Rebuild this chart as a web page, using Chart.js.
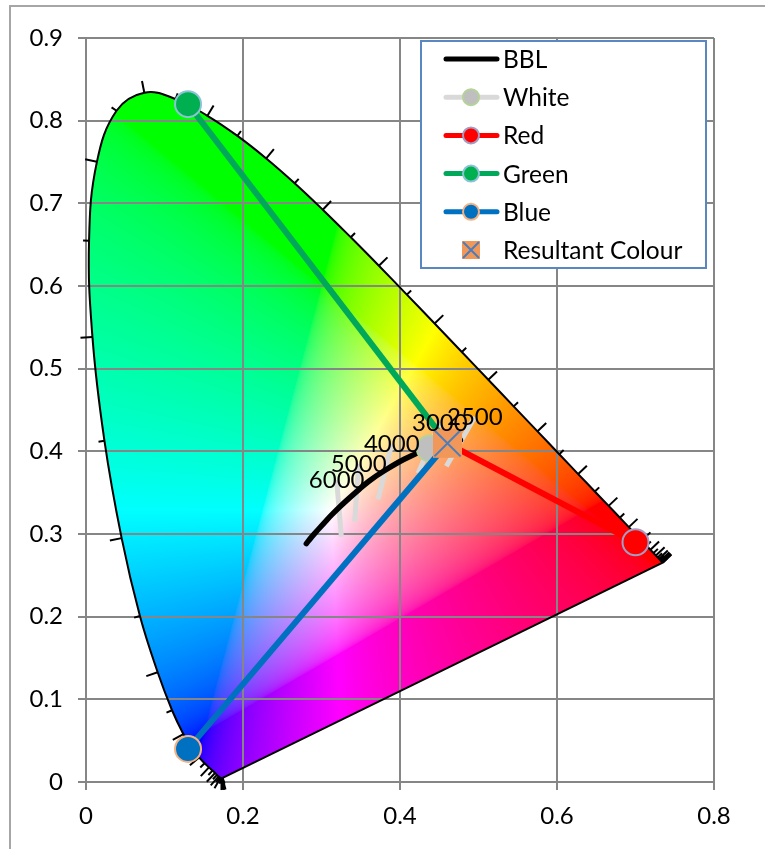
<!DOCTYPE html>
<html lang="en">
<head>
  <meta charset="UTF-8">
  <title>CIE 1931 chromaticity</title>
  <script src="https://cdn.jsdelivr.net/npm/chart.js"></script>
  <style>
    html, body { margin: 0; padding: 0; background: #fff; overflow: hidden; }
    #frame { position: absolute; left: 9px; top: 5px; width: 756px; height: 844px;
             border-left: 2px solid #a6a6a6; border-top: 2px solid #a6a6a6; box-sizing: border-box; }
    canvas { position: absolute; left: 0; top: 0; }
  </style>
</head>
<body>
  <div id="frame"></div>
  <canvas id="cie" width="765" height="849"></canvas>

  <script>
    // spectral locus, every 5 nm
    const locusNm = [380,385,390,395,400,405,410,415,420,425,430,435,440,445,450,455,460,465,470,475,480,485,490,495,500,505,510,515,520,525,530,535,540,545,550,555,560,565,570,575,580,585,590,595,600,605,610,615,620,625,630,635,640,645,650,655,660,665,670,675,680,685,690,695,700];
    const locusX = [.1741,.1740,.1738,.1736,.1733,.1730,.1726,.1721,.1714,.1703,.1689,.1669,.1644,.1611,.1566,.1510,.1440,.1355,.1241,.1096,.0913,.0687,.0454,.0235,.0082,.0039,.0139,.0389,.0743,.1142,.1547,.1929,.2296,.2658,.3016,.3373,.3731,.4087,.4441,.4788,.5125,.5448,.5752,.6029,.6270,.6482,.6658,.6801,.6915,.7006,.7079,.7140,.7190,.7230,.7260,.7283,.7300,.7311,.7320,.7327,.7334,.7340,.7344,.7346,.7347];
    const locusY = [.0050,.0050,.0049,.0049,.0048,.0048,.0048,.0048,.0051,.0058,.0069,.0086,.0109,.0138,.0177,.0227,.0297,.0399,.0578,.0868,.1327,.2007,.2950,.4127,.5384,.6548,.7502,.8120,.8338,.8262,.8059,.7816,.7543,.7243,.6923,.6589,.6245,.5896,.5547,.5202,.4866,.4544,.4242,.3965,.3725,.3514,.3340,.3197,.3083,.2993,.2920,.2859,.2809,.2770,.2740,.2717,.2700,.2689,.2680,.2673,.2666,.2660,.2656,.2654,.2653];

    // black body line
    const bblX = [.2807,.2867,.2952,.3064,.3135,.3221,.3325,.3451,.3608,.3805,.4053,.4369,.4520,.4770];
    const bblY = [.2884,.2956,.3048,.3166,.3237,.3318,.3410,.3516,.3642,.3768,.3904,.4041,.4086,.4137];

    // isotherm segments, bottom and top end
    const cctLabels = ['6000','5000','4000','3000','2500'];
    const cctBottomX = [.3253,.3423,.3720,.4230,.4590];
    const cctBottomY = [.2967,.3149,.3420,.3734,.3820];
    const cctTopX = [.3193,.3474,.3895,.4507,.4953];
    const cctTopY = [.3653,.3847,.4089,.4343,.4415];

    const whitePoint = [.438,.4035];
    const resultant = [.4605,.4097];
    const redPoint = [.70,.29];
    const greenPoint = [.13,.82];
    const bluePoint = [.13,.04];

    const xTicks = [0,.2,.4,.6,.8];
    const yTicks = [0,.1,.2,.3,.4,.5,.6,.7,.8,.9];
    const legendLabels = ['BBL','White','Red','Green','Blue','Resultant Colour'];

    const gridColor = '#868686';
    const axisFont = { family: 'Lato', size: 24 };

    function pairs(xs, ys) {
      return xs.map((x, i) => ({ x: x, y: ys[i] }));
    }

    const isotherms = [];
    cctLabels.forEach((t, i) => {
      isotherms.push({ x: cctBottomX[i], y: cctBottomY[i] });
      isotherms.push({ x: cctTopX[i], y: cctTopY[i] });
      isotherms.push({ x: cctTopX[i], y: null });
    });

    function toward(p) {
      return [{ x: p[0], y: p[1] }, { x: resultant[0], y: resultant[1] }];
    }

    // x,y to clipped sRGB, scaled so the largest channel is full
    function chromaRgb(x, y) {
      const X = x / y, Z = (1 - x - y) / y;
      let r = 3.2406 * X - 1.5372 - 0.4986 * Z;
      let g = -0.9689 * X + 1.8758 + 0.0415 * Z;
      let b = 0.0557 * X - 0.2040 + 1.0570 * Z;
      r = Math.max(r, 0); g = Math.max(g, 0); b = Math.max(b, 0);
      const m = Math.max(r, g, b) || 1;
      return [r, g, b].map(c => 255 * Math.pow(c / m, 1 / 2.2));
    }

    const horseshoe = {
      id: 'horseshoe',
      beforeDraw(chart) {
        const ctx = chart.ctx, a = chart.chartArea;
        const sx = chart.scales.x, sy = chart.scales.y;
        const w = Math.ceil(a.width), h = Math.ceil(a.height);
        const off = document.createElement('canvas');
        off.width = w; off.height = h;
        const octx = off.getContext('2d');
        const img = octx.createImageData(w, h);
        for (let j = 0; j < h; j++) {
          for (let i = 0; i < w; i++) {
            const x = sx.getValueForPixel(a.left + i + .5);
            const y = Math.max(sy.getValueForPixel(a.top + j + .5), .001);
            const c = chromaRgb(x, y);
            const k = (j * w + i) * 4;
            img.data[k] = c[0]; img.data[k + 1] = c[1]; img.data[k + 2] = c[2]; img.data[k + 3] = 255;
          }
        }
        octx.putImageData(img, 0, 0);
        // clip to the smoothed locus line, closed by the purple line
        const line = chart.getDatasetMeta(chart.data.datasets.findIndex(d => d.label === 'Locus')).dataset;
        ctx.save();
        ctx.beginPath();
        line.path(ctx);
        ctx.closePath();
        ctx.clip();
        ctx.drawImage(off, a.left, a.top);
        ctx.restore();
      },
      beforeDatasetsDraw(chart) {
        // wavelength ticks, long every 10 nm, short at 5 nm
        const ctx = chart.ctx;
        const sx = chart.scales.x, sy = chart.scales.y;
        const cx = sx.getPixelForValue(.33), cy = sy.getPixelForValue(.33);
        ctx.save();
        ctx.strokeStyle = '#000';
        ctx.lineWidth = 2;
        locusNm.forEach((nm, i) => {
          const a = Math.max(i - 1, 0), b = Math.min(i + 1, locusNm.length - 1);
          const px = sx.getPixelForValue(locusX[i]), py = sy.getPixelForValue(locusY[i]);
          const dx = sx.getPixelForValue(locusX[b]) - sx.getPixelForValue(locusX[a]);
          const dy = sy.getPixelForValue(locusY[b]) - sy.getPixelForValue(locusY[a]);
          const d = Math.hypot(dx, dy) || 1;
          let nx = -dy / d, ny = dx / d;
          if (nx * (px - cx) + ny * (py - cy) < 0) { nx = -nx; ny = -ny; }
          const len = nm % 10 === 0 ? 12 : 6;
          ctx.beginPath();
          ctx.moveTo(px, py);
          ctx.lineTo(px + nx * len, py + ny * len);
          ctx.stroke();
        });
        ctx.restore();
      },
      afterDatasetsDraw(chart) {
        const ctx = chart.ctx;
        const sx = chart.scales.x, sy = chart.scales.y;
        ctx.save();
        ctx.fillStyle = '#000';
        ctx.font = '24px Lato';
        ctx.textAlign = 'center';
        ctx.textBaseline = 'middle';
        cctLabels.forEach((t, i) => {
          ctx.fillText(t, sx.getPixelForValue(cctTopX[i]), sy.getPixelForValue(cctTopY[i]));
        });
        ctx.restore();
        drawLegend(chart);
      }
    };

    function drawLegend(chart) {
      const ctx = chart.ctx;
      const left = 421, top = 41, right = 706, bottom = 268;
      ctx.save();
      ctx.fillStyle = '#fff';
      ctx.fillRect(left, top, right - left, bottom - top);
      ctx.strokeStyle = '#5b87c1';
      ctx.lineWidth = 2;
      ctx.strokeRect(left, top, right - left, bottom - top);
      legendLabels.forEach((label, i) => {
        const y = 59 + i * 38.2;
        const ds = chart.data.datasets.find(d => d.label === label);
        if (label === 'Resultant Colour') {
          ctx.fillStyle = ds.pointBackgroundColor;
          ctx.fillRect(462, y - 9, 18, 18);
          ctx.strokeStyle = '#4a7ebb';
          ctx.lineWidth = 2;
          ctx.beginPath();
          ctx.moveTo(463, y - 8); ctx.lineTo(479, y + 8);
          ctx.moveTo(479, y - 8); ctx.lineTo(463, y + 8);
          ctx.stroke();
        } else {
          ctx.strokeStyle = ds.borderColor;
          ctx.lineWidth = 5;
          ctx.lineCap = 'round';
          ctx.beginPath();
          ctx.moveTo(446, y); ctx.lineTo(497, y);
          ctx.stroke();
          ctx.lineCap = 'butt';
          if (label !== 'BBL') {
            ctx.fillStyle = ds.pointBackgroundColor;
            ctx.strokeStyle = ds.pointBorderColor;
            ctx.lineWidth = 2;
            ctx.beginPath();
            ctx.arc(471, y, 8, 0, Math.PI * 2);
            ctx.fill();
            ctx.stroke();
          }
        }
        ctx.fillStyle = '#000';
        ctx.font = '24.5px Lato';
        ctx.textAlign = 'left';
        ctx.textBaseline = 'middle';
        ctx.fillText(label, 503, y + 1);
      });
      ctx.restore();
    }

    function lineSet(label, data, color, fill, edge) {
      return {
        label: label, data: data, showLine: true, borderColor: color, borderWidth: 6,
        pointRadius: [13, 0], pointBackgroundColor: fill, pointBorderColor: edge, pointBorderWidth: 2
      };
    }

    // lower order is painted later
    const datasets = [
      { label: 'Resultant X', data: [{ x: resultant[0], y: resultant[1] }], pointStyle: 'crossRot', pointRadius: 18.5,
        pointBorderColor: '#4a7ebb', pointBorderWidth: 2, showLine: false, order: 0 },
      { label: 'Resultant Colour', data: [{ x: resultant[0], y: resultant[1] }], pointStyle: 'rect', pointRadius: 20.5,
        pointBackgroundColor: '#f2975a', pointBorderColor: '#f2975a', pointBorderWidth: 0, showLine: false, order: 1 },
      Object.assign(lineSet('Blue', toward(bluePoint), '#0070c0', '#0070c0', '#f4b183'), { order: 2 }),
      Object.assign(lineSet('Green', toward(greenPoint), '#00a85a', '#00b050', '#8cc4d6'), { order: 3 }),
      Object.assign(lineSet('Red', toward(redPoint), '#ff0000', '#ff0000', '#a39dc4'), { order: 4 }),
      { label: 'White', data: [{ x: whitePoint[0], y: whitePoint[1] }], showLine: false, borderColor: '#d9d9d9',
        pointRadius: 13, pointBackgroundColor: '#bfbfbf', pointBorderColor: '#b5d29b', pointBorderWidth: 2, order: 5 },
      { label: 'BBL', data: pairs(bblX, bblY), showLine: true, borderColor: '#000', borderWidth: 5.5, borderCapStyle: 'round',
        tension: .4, pointRadius: 0, order: 6 },
      { label: 'Isotherms', data: isotherms, showLine: true, spanGaps: false, borderColor: '#d9d9d9', borderWidth: 5,
        pointRadius: 0, order: 7 },
      { label: 'Locus', data: pairs(locusX, locusY), showLine: true, tension: .4,
        borderColor: '#000', borderWidth: 2, pointRadius: 0, order: 8 },
      { label: 'Purple line', data: pairs([locusX[0], locusX[locusX.length - 1]], [locusY[0], locusY[locusY.length - 1]]), showLine: true,
        borderColor: '#000', borderWidth: 2, pointRadius: 0, order: 9 }
    ];

    new Chart(document.getElementById('cie'), {
      type: 'scatter',
      data: { datasets: datasets },
      plugins: [horseshoe],
      options: {
        responsive: false,
        animation: false,
        events: [],
        layout: { padding: { left: 0, top: 38, right: 51, bottom: 0 } },
        plugins: { legend: { display: false }, tooltip: { enabled: false } },
        elements: { point: { hitRadius: 0 } },
        scales: {
          x: {
            type: 'linear', min: 0, max: .8,
            afterBuildTicks: s => { s.ticks = xTicks.map(v => ({ value: v })); },
            afterFit: s => { s.height = 67; },
            grid: { color: gridColor, lineWidth: 2, tickLength: 8, tickColor: gridColor },
            border: { color: gridColor, width: 2 },
            ticks: { color: '#000', font: axisFont, padding: 12, maxRotation: 0, autoSkip: false }
          },
          y: {
            type: 'linear', min: 0, max: .9,
            afterBuildTicks: s => { s.ticks = yTicks.map(v => ({ value: v })); },
            afterFit: s => { s.width = 86; },
            grid: { color: gridColor, lineWidth: 2, tickLength: 8, tickColor: gridColor },
            border: { color: gridColor, width: 2 },
            ticks: { color: '#000', font: axisFont, padding: 15, autoSkip: false }
          }
        }
      }
    });
  </script>
</body>
</html>
